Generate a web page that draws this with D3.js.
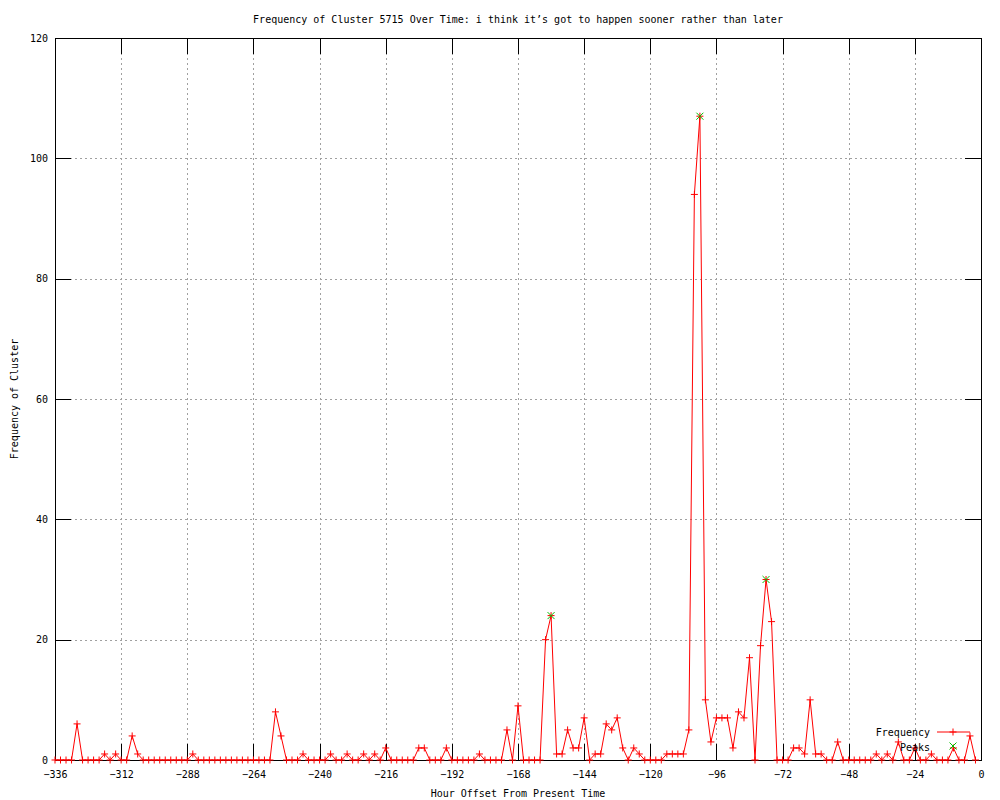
<!DOCTYPE html>
<html>
<head>
<meta charset="utf-8">
<script src="https://cdn.jsdelivr.net/npm/d3@7"></script>
<style>
  body { margin: 0; background: #fff; }
  text { font-family: 'DejaVu Sans Mono', monospace; font-size: 10px; fill: #000; }
</style>
</head>
<body>
<div id="chart"></div>
<script>
// hour offsets (x) and cluster frequency (y)
var hours = [
  -336, -334, -332, -330, -328, -326, -324, -322, -320, -318, -316, -314,
  -312, -310, -308, -306, -304, -302, -300, -298, -296, -294, -292, -290,
  -288, -286, -284, -282, -280, -278, -276, -274, -272, -270, -268, -266,
  -264, -262, -260, -258, -256, -254, -252, -250, -248, -246, -244, -242,
  -240, -238, -236, -234, -232, -230, -228, -226, -224, -222, -220, -218,
  -216, -214, -212, -210, -208, -206, -204, -202, -200, -198, -196, -194,
  -192, -190, -188, -186, -184, -182, -180, -178, -176, -174, -172, -170,
  -168, -166, -164, -162, -160, -158, -156, -154, -152, -150, -148, -146,
  -144, -142, -140, -138, -136, -134, -132, -130, -128, -126, -124, -122,
  -120, -118, -116, -114, -112, -110, -108, -106, -104, -102, -100, -98,
  -96, -94, -92, -90, -88, -86, -84, -82, -80, -78, -76, -74,
  -72, -70, -68, -66, -64, -62, -60, -58, -56, -54, -52, -50,
  -48, -46, -44, -42, -40, -38, -36, -34, -32, -30, -28, -26,
  -24, -22, -20, -18, -16, -14, -12, -10, -8, -6, -4, -2
]

var frequency = [
  0, 0, 0, 0, 6, 0, 0, 0, 0, 1, 0, 1,
  0, 0, 4, 1, 0, 0, 0, 0, 0, 0, 0, 0,
  0, 1, 0, 0, 0, 0, 0, 0, 0, 0, 0, 0,
  0, 0, 0, 0, 8, 4, 0, 0, 0, 1, 0, 0,
  0, 0, 1, 0, 0, 1, 0, 0, 1, 0, 1, 0,
  2, 0, 0, 0, 0, 0, 2, 2, 0, 0, 0, 2,
  0, 0, 0, 0, 0, 1, 0, 0, 0, 0, 5, 0,
  9, 0, 0, 0, 0, 20, 24, 1, 1, 5, 2, 2,
  7, 0, 1, 1, 6, 5, 7, 2, 0, 2, 1, 0,
  0, 0, 0, 1, 1, 1, 1, 5, 94, 107, 10, 3,
  7, 7, 7, 2, 8, 7, 17, 0, 19, 30, 23, 0,
  0, 0, 2, 2, 1, 10, 1, 1, 0, 0, 3, 0,
  0, 0, 0, 0, 0, 1, 0, 1, 0, 3, 0, 0,
  2, 0, 0, 1, 0, 0, 0, 2, 0, 0, 4, 0
]

var peakHours = [-156, -102, -78]
var peakValues = [24, 107, 30]

var xTicks = [-336, -312, -288, -264, -240, -216, -192, -168, -144, -120, -96, -72, -48, -24, 0]
var yTicks = [0, 20, 40, 60, 80, 100, 120]

var titleText = 'Frequency of Cluster 5715 Over Time: i think it\u2019s got to happen sooner rather than later'

var width = 1000
var height = 800
var margin = { top: 38, left: 55, right: 19, bottom: 40 }

var svg = d3
  .select('#chart')
  .append('svg')
  .attr('width', width)
  .attr('height', height)

var xScale = d3
  .scaleLinear()
  .domain([-336, 0])
  .range([margin.left, width - margin.right])

var yScale = d3
  .scaleLinear()
  .domain([0, 120])
  .range([height - margin.bottom, margin.top])

var x0 = xScale.range()[0]
var x1 = xScale.range()[1]
var y0 = yScale.range()[0]
var y1 = yScale.range()[1]

// dotted grid
svg
  .selectAll('.grid-x')
  .data(xTicks.slice(1, -1))
  .enter()
  .append('line')
  .attr('class', 'grid-x')
  .attr('x1', d => Math.round(xScale(d)) + 0.5)
  .attr('x2', d => Math.round(xScale(d)) + 0.5)
  .attr('y1', y1)
  .attr('y2', y0)
  .attr('stroke', '#a0a0a0')
  .attr('stroke-dasharray', '2,3')

svg
  .selectAll('.grid-y')
  .data(yTicks.slice(1, -1))
  .enter()
  .append('line')
  .attr('class', 'grid-y')
  .attr('x1', x0)
  .attr('x2', x1)
  .attr('y1', d => Math.round(yScale(d)) + 0.5)
  .attr('y2', d => Math.round(yScale(d)) + 0.5)
  .attr('stroke', '#a0a0a0')
  .attr('stroke-dasharray', '2,3')

// axes with inward ticks, mirrored on top and right
function styleAxis(g) {
  g.select('.domain').remove()
  g.selectAll('.tick line').attr('stroke', '#000').attr('shape-rendering', 'crispEdges')
  g.selectAll('.tick text')
    .attr('fill', '#000')
    .style('font-family', "'DejaVu Sans Mono', monospace")
    .style('font-size', '10px')
}

svg
  .append('g')
  .attr('transform', 'translate(0,' + y0 + ')')
  .call(d3.axisBottom(xScale).tickValues(xTicks).tickSize(-16).tickPadding(11).tickSizeOuter(0))
  .call(styleAxis)

svg
  .append('g')
  .attr('transform', 'translate(0,' + y1 + ')')
  .call(d3.axisTop(xScale).tickValues(xTicks).tickSize(-16).tickFormat('').tickSizeOuter(0))
  .call(styleAxis)

svg
  .append('g')
  .attr('transform', 'translate(' + x0 + ',0)')
  .call(d3.axisLeft(yScale).tickValues(yTicks).tickSize(-16).tickPadding(7).tickSizeOuter(0))
  .call(styleAxis)

svg
  .append('g')
  .attr('transform', 'translate(' + x1 + ',0)')
  .call(d3.axisRight(yScale).tickValues(yTicks).tickSize(-16).tickFormat('').tickSizeOuter(0))
  .call(styleAxis)

// border
svg
  .append('rect')
  .attr('x', x0 + 0.5)
  .attr('y', y1 + 0.5)
  .attr('width', x1 - x0)
  .attr('height', y0 - y1)
  .attr('fill', 'none')
  .attr('stroke', '#000')
  .attr('shape-rendering', 'crispEdges')

// frequency line + points
var points = hours.map((h, i) => ({ hour: h, value: frequency[i] }))

var line = d3
  .line()
  .x(d => xScale(d.hour))
  .y(d => yScale(d.value))

svg
  .append('path')
  .datum(points)
  .attr('d', line)
  .attr('fill', 'none')
  .attr('stroke', '#ff0000')
  .attr('stroke-width', 1)

var plus = 'M-3.5,0H3.5M0,-3.5V3.5'
var cross = 'M-3.5,-3.5L3.5,3.5M-3.5,3.5L3.5,-3.5'

svg
  .selectAll('.freq-point')
  .data(points)
  .enter()
  .append('path')
  .attr('class', 'freq-point')
  .attr('transform', d => 'translate(' + xScale(d.hour) + ',' + yScale(d.value) + ')')
  .attr('d', plus)
  .attr('stroke', '#ff0000')
  .attr('fill', 'none')

svg
  .selectAll('.peak')
  .data(peakHours.map((h, i) => ({ hour: h, value: peakValues[i] })))
  .enter()
  .append('path')
  .attr('class', 'peak')
  .attr('transform', d => 'translate(' + xScale(d.hour) + ',' + yScale(d.value) + ')')
  .attr('d', cross)
  .attr('stroke', '#00c000')
  .attr('fill', 'none')

// legend
var legend = svg.append('g')

legend
  .append('text')
  .attr('x', 930)
  .attr('y', 732)
  .attr('dy', '0.35em')
  .attr('text-anchor', 'end')
  .text('Frequency')

legend
  .append('line')
  .attr('x1', 937)
  .attr('x2', 970)
  .attr('y1', 732)
  .attr('y2', 732)
  .attr('stroke', '#ff0000')

legend
  .append('path')
  .attr('transform', 'translate(953,732)')
  .attr('d', plus)
  .attr('stroke', '#ff0000')

legend
  .append('text')
  .attr('x', 930)
  .attr('y', 747)
  .attr('dy', '0.35em')
  .attr('text-anchor', 'end')
  .text('Peaks')

legend
  .append('path')
  .attr('transform', 'translate(953,746)')
  .attr('d', cross)
  .attr('stroke', '#00c000')

// title and axis labels
svg
  .append('text')
  .attr('x', (x0 + x1) / 2)
  .attr('y', 19)
  .attr('dy', '0.35em')
  .attr('text-anchor', 'middle')
  .text(titleText)

svg
  .append('text')
  .attr('x', (x0 + x1) / 2)
  .attr('y', 793)
  .attr('dy', '0.35em')
  .attr('text-anchor', 'middle')
  .text('Hour Offset From Present Time')

svg
  .append('text')
  .attr('transform', 'translate(14,' + (y0 + y1) / 2 + ') rotate(-90)')
  .attr('dy', '0.35em')
  .attr('text-anchor', 'middle')
  .text('Frequency of Cluster')
</script>
</body>
</html>
